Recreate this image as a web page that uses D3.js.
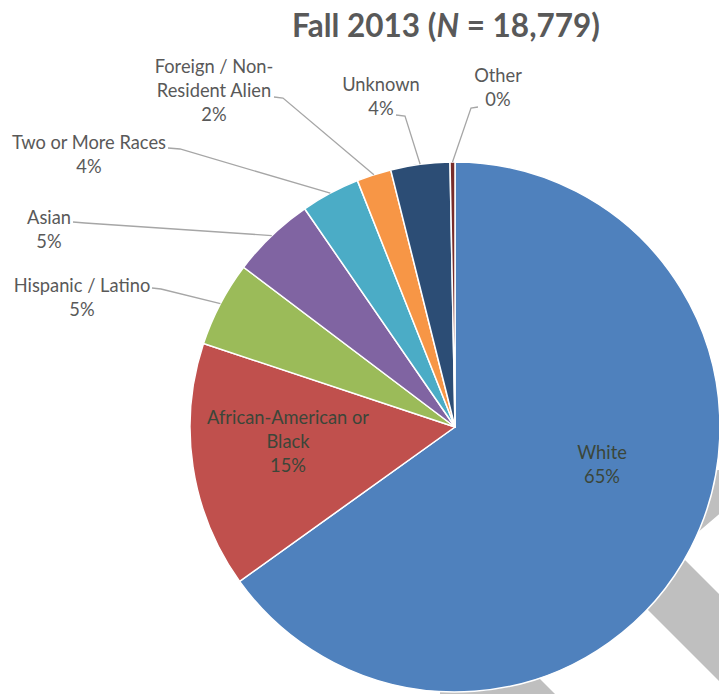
<!DOCTYPE html>
<html>
<head>
<meta charset="utf-8">
<script src="https://cdn.jsdelivr.net/npm/d3@7"></script>
<style>
  body { margin: 0; background: #fff; }
  svg { display: block; font-family: Lato, "Open Sans", sans-serif; }
</style>
</head>
<body>
<svg id="chart" viewBox="0 0 719 694" width="719" height="694"></svg>
<script>
// data (share of enrolment, %)
const categories = ["White", "African-American or Black", "Hispanic / Latino", "Asian",
  "Two or More Races", "Foreign / Non-Resident Alien", "Unknown", "Other"];
const shares = [65.1, 15.0, 5.2, 5.1, 3.6, 2.1, 3.6, 0.3];
const pctLabels = ["65%", "15%", "5%", "5%", "4%", "2%", "4%", "0%"];
const nameLines = [
  ["White"], ["African-American or", "Black"], ["Hispanic / Latino"], ["Asian"],
  ["Two or More Races"], ["Foreign / Non-", "Resident Alien"], ["Unknown"], ["Other"]
];
const colors = ["#4F81BD", "#C0504D", "#9BBB59", "#8064A2", "#4BACC6", "#F79646", "#2C4D75", "#772C2A"];

// label layout (x centre, first line centre y, leader start point or null)
const labelLayout = [
  { x: 602, y: 453, lead: null },
  { x: 288, y: 418, lead: null },
  { x: 82, y: 286, lead: [[152, 288], [161, 289]] },
  { x: 49, y: 218, lead: [[73, 222], [85, 223]] },
  { x: 89, y: 143, lead: [[168, 148], [180, 149]] },
  { x: 214, y: 67, lead: [[274, 97], [283, 98]] },
  { x: 381, y: 85, lead: [[396, 115], [405, 116]] },
  { x: 498, y: 76, lead: [[478, 107], [471, 108]] }
];

const svg = d3.select("#chart");
const cx = 455, cy = 427, radius = 265;
const lineH = 23.7;

// grey background shapes behind the pie
const greyShapes = [
  [[620, 470], [745, 470], [745, 492], [676, 551], [770, 645], [770, 732], [620, 582]],
  [[440, 680], [500, 639], [600, 739], [440, 739]]
];
svg.append("g")
  .selectAll("polygon")
  .data(greyShapes)
  .enter()
  .append("polygon")
  .attr("points", (d) => d.map((p) => p.join(",")).join(" "))
  .attr("fill", "#BFBFBF");

const data = categories.map((c, i) => ({ name: c, value: shares[i], i: i }));
const pie = d3.pie().sort(null).value((d) => d.value);
const arcs = pie(data);
const arc = d3.arc().innerRadius(0).outerRadius(radius);
const edgeArc = d3.arc().innerRadius(radius).outerRadius(radius);

const pieG = svg.append("g").attr("transform", `translate(${cx} ${cy})`);

pieG.selectAll("path")
  .data(arcs)
  .enter()
  .append("path")
  .attr("d", arc)
  .attr("fill", (d) => colors[d.data.i])
  .attr("stroke", "#fff")
  .attr("stroke-width", 1.5)
  .attr("stroke-linejoin", "round");

// leader lines
const line = d3.line();
svg.append("g")
  .selectAll("path")
  .data(arcs.filter((d) => labelLayout[d.data.i].lead))
  .enter()
  .append("path")
  .attr("d", (d) => {
    const c = edgeArc.centroid(d);
    const pts = labelLayout[d.data.i].lead.concat([[c[0] + cx, c[1] + cy]]);
    return line(pts);
  })
  .attr("fill", "none")
  .attr("stroke", "#A6A6A6")
  .attr("stroke-width", 1.3);

// labels
const labelG = svg.append("g");
data.forEach((d) => {
  const lay = labelLayout[d.i];
  const lines = nameLines[d.i].concat([pctLabels[d.i]]);
  const inside = lay.lead === null;
  labelG.append("text")
    .attr("text-anchor", "middle")
    .attr("font-size", "18.3px")
    .attr("fill", inside ? "#3b4639" : "#595959")
    .selectAll("tspan")
    .data(lines)
    .enter()
    .append("tspan")
    .attr("x", lay.x)
    .attr("y", (t, j) => lay.y + j * lineH)
    .attr("dy", "0.35em")
    .text((t) => t);
});

// title
const title = svg.append("text")
  .attr("x", 446)
  .attr("y", 37)
  .attr("text-anchor", "middle")
  .attr("font-size", "31.5px")
  .attr("font-weight", "bold")
  .attr("fill", "#595959");
title.append("tspan").text("Fall 2013 (");
title.append("tspan").attr("font-style", "italic").text("N");
title.append("tspan").text(" = 18,779)");
</script>
</body>
</html>
